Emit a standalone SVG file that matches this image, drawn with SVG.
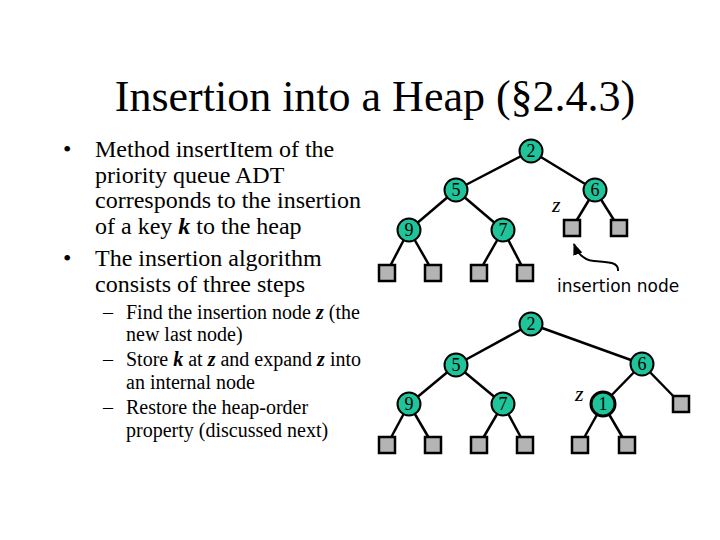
<svg xmlns="http://www.w3.org/2000/svg" width="720" height="540" viewBox="0 0 720 540">
<style>
.title{font-family:"Liberation Serif",serif;font-size:44px;fill:#000}
.b1{font-family:"Liberation Serif",serif;font-size:24px;fill:#000}
.b2{font-family:"Liberation Serif",serif;font-size:20px;fill:#000}
.bi{font-weight:bold;font-style:italic}
.edge{stroke:#000;stroke-width:2.5;fill:none}
.int circle{fill:#1fc49a;stroke:#000;stroke-width:2}
.int text{font-family:"Liberation Serif",serif;font-size:18px;text-anchor:middle;fill:#000}
.ext rect{fill:#b4b4b4;stroke:#000;stroke-width:2.5}
.zl{font-family:"Liberation Serif",serif;font-style:italic;font-size:22px;fill:#000}
.lbl{font-family:"DejaVu Sans",sans-serif;font-size:17px;fill:#000}
</style>
<defs>
<marker id="ah" viewBox="0 0 10 10" refX="9" refY="5" markerWidth="6" markerHeight="6" orient="auto">
<path d="M0,1 L10,5 L0,9 z" fill="#000"/>
</marker>
</defs>
<rect width="720" height="540" fill="#fff"/>
<text class="title" x="375" y="111" text-anchor="middle">Insertion into a Heap (§2.4.3)</text>

<g id="text-left">
<text class="b1" x="63" y="157">•</text>
<text class="b1" x="95" y="157">Method insertItem of the</text>
<text class="b1" x="95" y="183">priority queue ADT</text>
<text class="b1" x="95" y="208">corresponds to the insertion</text>
<text class="b1" x="95" y="234">of a key <tspan class="bi">k</tspan> to the heap</text>
<text class="b1" x="63" y="266">•</text>
<text class="b1" x="95" y="266">The insertion algorithm</text>
<text class="b1" x="95" y="292">consists of three steps</text>
<text class="b2" x="103" y="319">–</text>
<text class="b2" x="126" y="319">Find the insertion node <tspan class="bi">z</tspan> (the</text>
<text class="b2" x="126" y="341">new last node)</text>
<text class="b2" x="103" y="366">–</text>
<text class="b2" x="126" y="366">Store <tspan class="bi">k</tspan> at <tspan class="bi">z</tspan> and expand <tspan class="bi">z</tspan> into</text>
<text class="b2" x="126" y="389">an internal node</text>
<text class="b2" x="103" y="414">–</text>
<text class="b2" x="126" y="414">Restore the heap-order</text>
<text class="b2" x="126" y="437">property (discussed next)</text>
</g>

<g id="connectors">
<!-- top tree -->
<line class="edge" x1="531" y1="151" x2="456" y2="190"/>
<line class="edge" x1="531" y1="151" x2="595" y2="190"/>
<line class="edge" x1="456" y1="190" x2="409" y2="230"/>
<line class="edge" x1="456" y1="190" x2="503" y2="230"/>
<line class="edge" x1="409" y1="230" x2="387" y2="272"/>
<line class="edge" x1="409" y1="230" x2="433" y2="272"/>
<line class="edge" x1="503" y1="230" x2="479" y2="272"/>
<line class="edge" x1="503" y1="230" x2="525" y2="272"/>
<line class="edge" x1="595" y1="190" x2="572" y2="228"/>
<line class="edge" x1="595" y1="190" x2="619" y2="228"/>
<path d="M618,271 C619,262 608,262 594,261 C582,260 577,252 574,244" stroke="#000" stroke-width="2" fill="none" marker-end="url(#ah)"/>
<!-- bottom tree -->
<line class="edge" x1="531" y1="324" x2="456" y2="365"/>
<line class="edge" x1="531" y1="324" x2="642" y2="364"/>
<line class="edge" x1="456" y1="365" x2="409" y2="404"/>
<line class="edge" x1="456" y1="365" x2="503" y2="404"/>
<line class="edge" x1="409" y1="404" x2="387" y2="445"/>
<line class="edge" x1="409" y1="404" x2="433" y2="445"/>
<line class="edge" x1="503" y1="404" x2="479" y2="445"/>
<line class="edge" x1="503" y1="404" x2="525" y2="445"/>
<line class="edge" x1="642" y1="364" x2="603" y2="404"/>
<line class="edge" x1="642" y1="364" x2="681" y2="404"/>
<line class="edge" x1="603" y1="404" x2="580" y2="445"/>
<line class="edge" x1="603" y1="404" x2="627" y2="445"/>
</g>

<!-- top tree nodes -->
<g id="t-n2" class="int"><circle cx="531" cy="151" r="11.5"/><text x="531" y="157">2</text></g>
<g id="t-n5" class="int"><circle cx="456" cy="190" r="11.5"/><text x="456" y="196">5</text></g>
<g id="t-n6" class="int"><circle cx="595" cy="190" r="11.5"/><text x="595" y="196">6</text></g>
<g id="t-n9" class="int"><circle cx="409" cy="230" r="11.5"/><text x="409" y="236">9</text></g>
<g id="t-n7" class="int"><circle cx="503" cy="230" r="11.5"/><text x="503" y="236">7</text></g>
<g id="t-e1" class="ext"><rect x="379" y="265" width="16" height="16"/></g>
<g id="t-e2" class="ext"><rect x="425" y="265" width="16" height="16"/></g>
<g id="t-e3" class="ext"><rect x="471" y="265" width="16" height="16"/></g>
<g id="t-e4" class="ext"><rect x="517" y="265" width="16" height="16"/></g>
<g id="t-z" class="ext"><rect x="564" y="220" width="16" height="16"/></g>
<g id="t-e6" class="ext"><rect x="611" y="220" width="16" height="16"/></g>
<text class="zl" x="552" y="212">z</text>
<text class="lbl" x="557" y="292">insertion node</text>

<!-- bottom tree nodes -->
<g id="b-n2" class="int"><circle cx="531" cy="324" r="11.5"/><text x="531" y="330">2</text></g>
<g id="b-n5" class="int"><circle cx="456" cy="365" r="11.5"/><text x="456" y="371">5</text></g>
<g id="b-n6" class="int"><circle cx="642" cy="364" r="11.5"/><text x="642" y="370">6</text></g>
<g id="b-n9" class="int"><circle cx="409" cy="404" r="11.5"/><text x="409" y="410">9</text></g>
<g id="b-n7" class="int"><circle cx="503" cy="404" r="11.5"/><text x="503" y="410">7</text></g>
<g id="b-n1" class="int"><circle cx="603" cy="404" r="12" style="stroke-width:3"/><text x="603" y="410">1</text></g>
<g id="b-e1" class="ext"><rect x="379" y="437" width="16" height="16"/></g>
<g id="b-e2" class="ext"><rect x="425" y="437" width="16" height="16"/></g>
<g id="b-e3" class="ext"><rect x="471" y="437" width="16" height="16"/></g>
<g id="b-e4" class="ext"><rect x="517" y="437" width="16" height="16"/></g>
<g id="b-e5" class="ext"><rect x="572" y="437" width="16" height="16"/></g>
<g id="b-e6" class="ext"><rect x="619" y="437" width="16" height="16"/></g>
<g id="b-e7" class="ext"><rect x="673" y="396" width="16" height="16"/></g>
<text class="zl" x="575" y="401">z</text>
</svg>
